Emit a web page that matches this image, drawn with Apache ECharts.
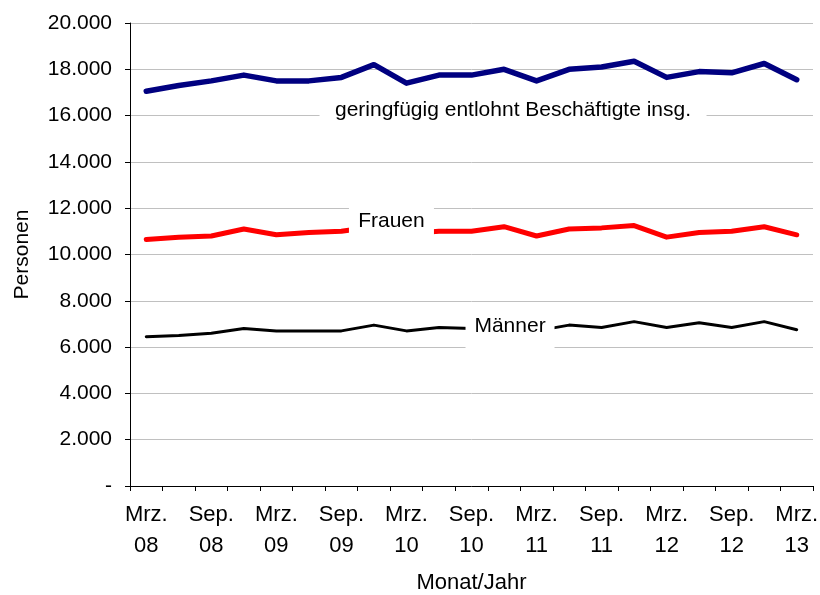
<!DOCTYPE html>
<html>
<head>
<meta charset="utf-8">
<script src="https://cdn.jsdelivr.net/npm/echarts@6/dist/echarts.min.js"></script>
<style>
    html, body { margin: 0; padding: 0; background: #fff; }
    #chart { width: 820px; height: 595px; }
</style>
</head>
<body>
<div id="chart"></div>
<script>
// Quartale Mrz. 08 - Mrz. 13
var kategorien = [
    'Mrz.\n08', 'Jun.\n08', 'Sep.\n08', 'Dez.\n08',
    'Mrz.\n09', 'Jun.\n09', 'Sep.\n09', 'Dez.\n09',
    'Mrz.\n10', 'Jun.\n10', 'Sep.\n10', 'Dez.\n10',
    'Mrz.\n11', 'Jun.\n11', 'Sep.\n11', 'Dez.\n11',
    'Mrz.\n12', 'Jun.\n12', 'Sep.\n12', 'Dez.\n12',
    'Mrz.\n13'
];
var insgesamt = [17050, 17300, 17500, 17750, 17500, 17500, 17650, 18200, 17400, 17750,
                 17750, 18000, 17500, 18000, 18100, 18350, 17650, 17900, 17850, 18250, 17550];
var frauen = [10650, 10750, 10800, 11100, 10850, 10950, 11000, 11200, 10900, 11000,
              11000, 11200, 10800, 11100, 11150, 11250, 10750, 10950, 11000, 11200, 10850];
var maenner = [6450, 6500, 6600, 6800, 6700, 6700, 6700, 6950, 6700, 6850,
               6800, 7000, 6700, 6950, 6850, 7100, 6850, 7050, 6850, 7100, 6750];

var schrift = 'Liberation Sans, Arial, sans-serif';

// weisser Kasten mit Serienname, am Datenpunkt idx verankert
function beschriftung(text, idx, wert, breite, hoehe, dx) {
    return {
        coord: [idx, wert],
        symbol: 'rect',
        symbolSize: [breite, hoehe],
        symbolOffset: [dx, 0],
        itemStyle: { color: '#fff' },
        label: {
            show: true,
            position: 'inside',
            formatter: text,
            color: '#000',
            fontFamily: schrift,
            fontSize: 21
        }
    };
}

function linie(name, daten, farbe, breite, marke) {
    return {
        name: name,
        type: 'line',
        data: daten,
        symbol: 'none',
        lineStyle: { color: farbe, width: breite, cap: 'round', join: 'round' },
        itemStyle: { color: farbe },
        markPoint: {
            silent: true,
            data: [marke]
        }
    };
}

var chart = echarts.init(document.getElementById('chart'));
chart.setOption({
    animation: false,
    grid: {
        left: 130, right: 7, top: 23, bottom: 109,
        containLabel: false,
        outerBoundsMode: 'none'
    },
    xAxis: {
        type: 'category',
        data: kategorien,
        name: 'Monat/Jahr',
        nameLocation: 'middle',
        nameGap: 86,
        nameTextStyle: { color: '#000', fontFamily: schrift, fontSize: 22 },
        axisLine: { lineStyle: { color: '#000', width: 1 } },
        axisTick: { show: true, interval: 0, length: 5, lineStyle: { color: '#000' } },
        axisLabel: {
            interval: 1,
            color: '#000',
            fontFamily: schrift,
            fontSize: 22,
            lineHeight: 31,
            margin: 13
        }
    },
    yAxis: {
        type: 'value',
        min: 0,
        max: 20000,
        interval: 2000,
        name: 'Personen',
        nameLocation: 'middle',
        nameGap: 97,
        nameRotate: 90,
        nameTextStyle: { color: '#000', fontFamily: schrift, fontSize: 21 },
        axisLine: { show: true, lineStyle: { color: '#000', width: 1 } },
        axisTick: { show: true, length: 5, lineStyle: { color: '#000' } },
        splitLine: { show: true, lineStyle: { color: '#c0c0c0', width: 1 } },
        axisLabel: {
            color: '#000',
            fontFamily: schrift,
            fontSize: 21,
            margin: 18,
            formatter: function (v) {
                if (v === 0) return '-';
                return String(v).replace(/\B(?=(\d{3})+(?!\d))/g, '.');
            }
        }
    },
    series: [
        linie('geringfügig entlohnt Beschäftigte insg.', insgesamt, '#000080', 5.5,
            beschriftung('geringfügig entlohnt Beschäftigte insg.', 11, 16250, 387, 34, 9)),
        linie('Frauen', frauen, '#ff0000', 5,
            beschriftung('Frauen', 8, 11450, 85, 36, -15)),
        linie('Männer', maenner, '#000000', 3,
            beschriftung('Männer', 11, 6890, 89, 44, 6))
    ]
});
</script>
</body>
</html>
